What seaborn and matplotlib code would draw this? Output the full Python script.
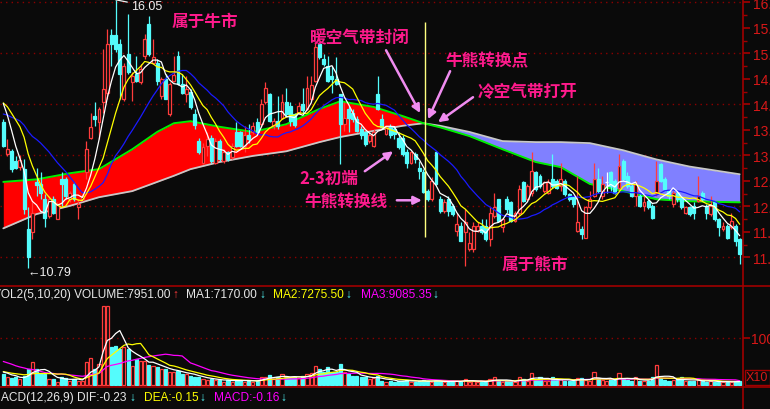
import matplotlib
matplotlib.use("Agg")
import matplotlib.pyplot as plt
import numpy as np
import pandas as pd
import seaborn as sns
from matplotlib.lines import Line2D
from matplotlib.ticker import FixedLocator, FormatStrFormatter

# closes before the first visible candle, only used to seed the moving averages
pre_close = [13.5, 13.6, 13.4, 13.7, 13.6, 13.5, 13.8, 13.6, 13.7, 13.5,
             13.9, 14.0, 14.1, 14.2, 14.0, 14.3, 14.2, 14.3, 14.1]

opens = [13.65, 13.03, 13.09, 12.89, 12.78, 12.73, 11.55, 11.49, 12.47, 12.44,
         12.14, 11.82, 12.14, 11.76, 12.53, 12.53, 12.14, 12.44, 11.98, 12.14,
         12.67, 13.35, 13.78, 13.65, 14.04, 14.23, 15.35, 15.35, 15.18, 14.10,
         14.99, 14.43, 14.59, 14.43, 14.95, 15.57, 14.82, 14.82, 14.17, 14.50,
         13.81, 14.46, 14.95, 14.40, 14.20, 14.25, 13.81, 13.29, 12.86, 13.19,
         13.35, 12.86, 13.29, 12.89, 13.06, 12.96, 13.45, 13.45, 13.19, 13.39,
         13.45, 13.65, 13.61, 14.04, 14.20, 13.58, 13.68, 13.74, 14.04, 13.97,
         13.81, 13.84, 14.01, 13.91, 14.10, 14.46, 15.18, 14.89, 14.76, 14.56,
         14.50, 14.20, 13.61, 13.91, 13.84, 13.71, 13.52, 13.45, 13.29, 13.19,
         14.20, 13.71, 13.42, 13.55, 13.52, 13.35, 13.35, 13.06, 12.86, 13.03,
         12.76, 12.67, 12.31, 12.14, 13.06, 12.14, 11.91, 12.14, 12.01, 11.52,
         11.62, 11.49, 11.16, 11.16, 11.52, 11.62, 11.62, 11.36, 11.82, 12.14,
         11.59, 12.14, 12.08, 11.72, 11.88, 12.47, 12.14, 12.27, 12.67, 12.60,
         12.31, 12.27, 12.53, 12.50, 12.40, 12.50, 12.24, 12.18, 11.52, 11.56,
         11.39, 11.98, 12.21, 12.53, 12.21, 12.48, 12.67, 12.50, 12.37, 12.89,
         12.60, 12.40, 12.21, 12.21, 12.01, 12.11, 12.01, 12.27, 12.83, 12.53,
         12.31, 12.05, 12.27, 12.18, 11.88, 11.98, 12.01, 12.11, 12.27, 12.01,
         11.85, 12.08, 11.75, 11.56, 11.62, 11.59, 11.62, 11.36]

highs = [13.71, 13.32, 13.12, 12.99, 13.00, 12.93, 11.98, 12.08, 12.76, 12.67,
         12.24, 12.21, 12.21, 12.08, 12.67, 12.57, 12.31, 12.47, 12.14, 12.24,
         13.29, 13.84, 14.04, 13.94, 15.08, 15.48, 15.48, 16.05, 15.28, 14.82,
         15.77, 14.63, 14.95, 14.79, 15.38, 15.74, 15.28, 14.89, 14.53, 14.59,
         14.43, 14.95, 15.05, 14.59, 14.56, 14.30, 13.91, 13.35, 13.25, 13.45,
         13.39, 13.35, 13.32, 13.12, 13.09, 13.25, 13.65, 13.48, 13.58, 13.61,
         13.65, 13.74, 14.10, 14.43, 14.23, 13.74, 14.17, 14.20, 14.33, 14.04,
         13.84, 14.04, 14.33, 14.56, 14.56, 15.22, 15.22, 14.99, 14.95, 14.76,
         14.92, 14.20, 14.04, 13.97, 13.91, 13.78, 13.58, 13.48, 13.45, 13.52,
         14.55, 13.81, 13.58, 13.61, 13.58, 13.45, 13.39, 13.12, 13.09, 13.06,
         12.89, 12.73, 12.34, 12.57, 13.09, 12.21, 12.14, 12.21, 12.05, 11.88,
         11.69, 11.95, 11.49, 11.69, 11.69, 11.75, 11.75, 11.98, 12.27, 12.14,
         11.78, 12.21, 12.11, 11.91, 12.41, 12.50, 12.44, 13.06, 12.70, 12.63,
         12.50, 12.53, 13.03, 12.53, 12.86, 12.53, 12.27, 12.21, 12.60, 11.62,
         12.01, 12.31, 12.86, 12.76, 12.60, 12.67, 12.70, 12.53, 13.03, 12.93,
         12.67, 12.44, 12.50, 12.24, 12.24, 12.14, 12.05, 12.89, 12.86, 12.57,
         12.34, 12.31, 12.31, 12.21, 12.01, 12.01, 12.08, 12.60, 12.31, 12.05,
         12.21, 12.11, 11.78, 11.69, 11.65, 11.88, 11.65, 11.39]

lows = [13.16, 12.99, 12.67, 12.73, 12.72, 11.85, 10.79, 11.36, 12.21, 12.14,
        11.59, 11.78, 11.85, 11.75, 12.01, 12.14, 12.08, 12.11, 11.75, 12.11,
        12.54, 13.32, 13.58, 13.32, 13.84, 14.10, 14.76, 15.02, 14.10, 14.07,
        14.59, 14.07, 14.43, 14.40, 14.89, 14.95, 14.79, 14.37, 14.10, 14.10,
        13.78, 14.43, 14.37, 14.20, 14.04, 13.91, 13.52, 13.03, 12.83, 12.99,
        12.86, 12.83, 12.89, 12.86, 12.89, 12.93, 13.16, 13.16, 13.06, 13.25,
        13.42, 13.39, 13.55, 14.01, 13.65, 13.52, 13.52, 13.71, 13.78, 13.58,
        13.55, 13.81, 13.84, 13.88, 14.07, 14.43, 14.89, 14.76, 14.43, 14.23,
        14.37, 12.83, 13.48, 13.45, 13.65, 13.45, 13.32, 13.19, 13.25, 13.16,
        13.88, 13.52, 13.39, 13.35, 13.32, 13.12, 12.99, 12.76, 12.83, 12.86,
        12.54, 12.27, 12.11, 12.11, 12.41, 11.88, 11.88, 11.82, 11.82, 11.42,
        11.33, 10.84, 11.13, 11.10, 11.49, 11.46, 11.33, 11.23, 11.78, 11.69,
        11.49, 11.88, 11.69, 11.69, 11.82, 12.08, 12.11, 12.21, 12.31, 12.37,
        12.27, 12.24, 12.37, 12.34, 12.31, 12.21, 12.11, 11.98, 11.49, 11.36,
        11.39, 11.95, 12.18, 12.27, 12.14, 12.27, 12.31, 12.24, 12.31, 12.50,
        12.37, 12.18, 12.01, 11.98, 11.91, 11.95, 11.75, 12.21, 12.47, 12.31,
        12.14, 11.98, 12.08, 11.95, 11.85, 11.82, 11.75, 12.08, 12.11, 11.75,
        11.82, 11.72, 11.42, 11.52, 11.36, 11.56, 11.23, 10.87]

closes = [13.19, 13.12, 12.73, 12.76, 12.90, 11.95, 11.00, 11.88, 12.41, 12.27,
          11.78, 12.14, 11.88, 12.05, 12.44, 12.21, 12.27, 12.14, 12.05, 12.21,
          13.12, 13.55, 13.71, 13.91, 14.30, 15.18, 15.18, 15.08, 14.59, 14.76,
          14.63, 14.56, 14.46, 14.69, 15.28, 14.99, 14.92, 14.46, 14.50, 14.10,
          14.40, 14.57, 14.40, 14.23, 14.30, 13.94, 13.59, 13.06, 13.16, 13.32,
          12.89, 13.29, 12.93, 13.06, 12.93, 13.19, 13.19, 13.19, 13.39, 13.32,
          13.58, 13.45, 14.01, 14.33, 13.68, 13.68, 13.58, 14.04, 13.81, 13.68,
          13.59, 13.97, 13.88, 14.33, 14.37, 15.12, 14.92, 14.79, 14.46, 14.50,
          14.40, 13.61, 13.74, 13.74, 13.71, 13.48, 13.39, 13.22, 13.39, 13.45,
          13.91, 13.55, 13.55, 13.39, 13.42, 13.16, 13.03, 12.86, 13.06, 12.93,
          12.70, 12.29, 12.14, 12.50, 12.44, 11.91, 12.08, 11.91, 11.85, 11.65,
          11.33, 11.69, 11.29, 11.62, 11.62, 11.49, 11.36, 11.88, 11.98, 11.72,
          11.75, 11.95, 11.72, 11.88, 12.34, 12.11, 12.40, 12.70, 12.34, 12.40,
          12.47, 12.48, 12.40, 12.37, 12.53, 12.24, 12.14, 12.05, 11.69, 11.46,
          11.98, 12.14, 12.53, 12.31, 12.44, 12.48, 12.40, 12.27, 12.80, 12.53,
          12.40, 12.21, 12.44, 12.01, 12.08, 11.98, 11.78, 12.50, 12.50, 12.34,
          12.21, 12.27, 12.14, 11.98, 11.98, 11.85, 11.88, 12.21, 12.14, 11.88,
          12.01, 11.75, 11.59, 11.62, 11.39, 11.72, 11.33, 11.07]

# volume in thousands
pre_volume = [75, 70, 85, 65, 60, 80, 70, 65, 75, 70,
              35, 30, 28, 25, 30, 28, 32, 25, 30]
volume = [23, 16, 14, 16, 13, 20, 33, 48, 35, 26,
          23, 13, 13, 6, 18, 14, 9, 13, 9, 9,
          48, 57, 34, 45, 169, 169, 80, 84, 77, 80,
          77, 41, 55, 52, 52, 43, 40, 38, 34, 35,
          28, 27, 30, 23, 23, 20, 18, 16, 13, 11,
          13, 11, 11, 7, 11, 7, 11, 11, 7, 9,
          7, 9, 18, 18, 21, 13, 16, 23, 18, 16,
          16, 14, 20, 23, 26, 41, 34, 28, 38, 27,
          28, 45, 27, 23, 20, 20, 16, 16, 13, 14,
          20, 9, 7, 9, 7, 9, 9, 11, 7, 6,
          9, 11, 8, 7, 9, 8, 6, 7, 8, 9,
          8, 13, 7, 8, 6, 7, 8, 13, 16, 9,
          7, 8, 9, 7, 16, 12, 9, 25, 12, 16,
          8, 9, 16, 10, 12, 9, 8, 9, 15, 15,
          10, 9, 27, 14, 10, 9, 12, 10, 25, 12,
          11, 9, 16, 9, 8, 9, 16, 43, 14, 11,
          9, 10, 12, 16, 9, 8, 9, 10.95, 8, 7,
          8, 7.4, 6.5, 6, 7, 6.5, 8.4, 7.951]

# long-term band ("air band"): green and gray lines read at selected candles
band_idx = [0, 8, 16, 23, 31, 37, 41, 45, 52, 60, 68, 76, 81, 89, 96,
            101, 105, 112, 120, 128, 134, 141, 149, 157, 165, 177]
band_green = [12.48, 12.53, 12.65, 12.73, 13.12, 13.46, 13.63, 13.67, 13.56,
              13.46, 13.61, 13.91, 14.06, 13.95, 13.77, 13.63, 13.55, 13.38,
              13.12, 12.87, 12.77, 12.44, 12.30, 12.14, 12.10, 12.08]
band_gray = [11.57, 11.85, 12.01, 12.18, 12.30, 12.48, 12.60, 12.73, 12.87,
             12.99, 13.08, 13.26, 13.36, 13.48, 13.58, 13.63, 13.58, 13.46,
             13.28, 13.26, 13.26, 13.24, 13.10, 12.92, 12.78, 12.63]

price_ticks = [16.0, 15.5, 15.0, 14.5, 14.0, 13.5, 13.0, 12.5, 12.0, 11.5, 11.0]
price_grid = [16, 15, 14, 13, 12, 11]
vol_ticks = [100]

BG = "#0a0a0a"
UP = "#ff3c3c"
DOWN = "#54fcfc"
AXIS = "#a00000"
GRID = "#8c0000"
LABEL = "#d81818"
PINK = "#ff1a8c"
ARROW = "#f08cf0"
W, H = 770, 410

sns.set_theme(style="dark", rc={"axes.facecolor": BG, "figure.facecolor": BG,
                                "savefig.facecolor": BG})
plt.rcParams["font.family"] = ["Liberation Sans", "Noto Sans CJK SC", "DejaVu Sans"]
CJK = ["Noto Sans CJK SC", "DejaVu Sans"]


def fx(x):
    return x / W


def fy(y):
    return 1 - y / H


n = len(closes)
idx = np.arange(n)
o = np.array(opens)
c = np.array(closes)
hi = np.array(highs)
lo = np.array(lows)
vol = np.array(volume)

all_close = pd.Series(pre_close + closes)
ma5 = all_close.rolling(5).mean().iloc[len(pre_close):].to_numpy()
ma10 = all_close.rolling(10).mean().iloc[len(pre_close):].to_numpy()
ma20 = all_close.rolling(20).mean().iloc[len(pre_close):].to_numpy()
all_vol = pd.Series(pre_volume + volume)
vma5 = all_vol.rolling(5).mean().iloc[len(pre_volume):].to_numpy()
vma10 = all_vol.rolling(10).mean().iloc[len(pre_volume):].to_numpy()
vma20 = all_vol.rolling(20).mean().iloc[len(pre_volume):].to_numpy()

fig = plt.figure(figsize=(W / 100, H / 100), dpi=100)
xlim = (-0.79, 177.8)
ax_p = fig.add_axes([0, fy(287), fx(743), 287 / H])
ax_v = fig.add_axes([0, fy(388), fx(743), 101 / H])
ax_m = fig.add_axes([0, 0, fx(743), 22 / H])

for ax in (ax_p, ax_v, ax_m):
    ax.set_facecolor(BG)
    ax.set_xlim(*xlim)
    ax.set_xticks([])
    for side in ("top", "bottom", "left"):
        ax.spines[side].set_visible(False)
    ax.spines["right"].set_color(AXIS)
    ax.spines["right"].set_linewidth(1.2)
    ax.grid(False)
ax_m.set_yticks([])

# ---- price panel ----
ax_p.set_ylim(10.44, 16.065)
for g in price_grid:
    ax_p.axhline(g, color=GRID, lw=1, ls=(0, (1, 3)), zorder=1)

bx = np.array(band_idx)
bg_ = np.array(band_green)
bgr = np.array(band_gray)
ax_p.fill_between(bx, bg_, bgr, where=bg_ >= bgr, interpolate=True,
                  color="#ff0000", lw=0, zorder=2)
ax_p.fill_between(bx, bg_, bgr, where=bg_ <= bgr, interpolate=True,
                  color="#8080ff", lw=0, zorder=2)
sns.lineplot(x=bx, y=bgr, ax=ax_p, color="#c8c8c8", lw=1.3, zorder=3)
sns.lineplot(x=bx, y=bg_, ax=ax_p, color="#00ee00", lw=1.4, zorder=3)

up = c > o
doji = c == o
edge = np.where(doji, "#ffffff", np.where(up, UP, DOWN))
face = np.where(up | doji, BG, DOWN)
ax_p.vlines(idx, lo, hi, colors=edge, lw=0.9, zorder=4)
ax_p.bar(idx, np.abs(c - o), bottom=np.minimum(o, c), width=0.7,
         color=face, edgecolor=edge, linewidth=0.9, zorder=5)

sns.lineplot(x=idx, y=ma20, ax=ax_p, color="#1a1aff", lw=0.9, zorder=6)
sns.lineplot(x=idx, y=ma10, ax=ax_p, color="#ffff00", lw=0.9, zorder=6)
sns.lineplot(x=idx, y=ma5, ax=ax_p, color="#ffffff", lw=0.9, zorder=7)

ax_p.yaxis.tick_right()
ax_p.yaxis.set_major_locator(FixedLocator(price_ticks))
ax_p.yaxis.set_minor_locator(FixedLocator(np.arange(11.25, 16.0, 0.5)))
ax_p.yaxis.set_major_formatter(FormatStrFormatter("%.2f"))
ax_p.tick_params(axis="y", which="major", length=5, color=AXIS, labelcolor=LABEL,
                 labelsize=10, pad=2, right=True, left=False)
ax_p.tick_params(axis="y", which="minor", length=3, color=AXIS, right=True, left=False)
ax_p.set_xlabel("")
ax_p.set_ylabel("")

# high / low markers
i_hi = int(np.argmax(hi))
i_lo = int(np.argmin(lo))
ax_p.annotate(f"{hi[i_hi]:.2f}", xy=(i_hi, hi[i_hi]), xytext=(i_hi + 3.6, 15.93),
              color="#f0f0f0", fontsize=9, va="center", ha="left",
              arrowprops=dict(arrowstyle="-", color="#f0f0f0", lw=0.9,
                              shrinkA=0, shrinkB=0), zorder=9)
ax_p.text(i_lo - 0.2, 10.71, f"←{lo[i_lo]:.2f}", color="#f0f0f0", fontsize=9,
          va="center", ha="left", zorder=9)

# turning point marker
ax_p.vlines(101.4, 11.41, 15.61, color="#ffff80", lw=1, zorder=8)

notes = [
    ("属于牛市", 48.5, 15.63),
    ("暖空气带封闭", 85.7, 15.32),
    ("牛熊转换点", 116.4, 14.87),
    ("冷空气带打开", 126.1, 14.26),
    ("2-3初端", 78.3, 12.56),
    ("牛熊转换线", 82.5, 12.12),
    ("属于熊市", 127.8, 10.87),
]
for s, x, y in notes:
    ax_p.text(x, y, s, color=PINK, fontsize=12, fontweight="bold", family=CJK,
              ha="center", va="center", zorder=10)

arrows = [
    ((92.0, 15.06), (100.2, 13.83)),
    ((107.4, 14.65), (102.1, 13.71)),
    ((112.9, 14.14), (104.5, 13.65)),
    ((86.9, 12.69), (93.7, 13.08)),
    ((94.6, 12.12), (100.6, 12.12)),
]
for start, end in arrows:
    ax_p.annotate("", xy=end, xytext=start, zorder=10,
                  arrowprops=dict(arrowstyle="-|>", color=ARROW, lw=1.8,
                                  mutation_scale=12, shrinkA=0, shrinkB=0))

# ---- volume panel ----
ax_v.set_ylim(-4.3, 210.6)
ax_v.axhline(100, color=GRID, lw=1, ls=(0, (1, 3)), zorder=1)
vup = c >= o
vface = np.where(vup, BG, DOWN)
vedge = np.where(vup, UP, DOWN)
ax_v.bar(idx, vol, width=0.75, color=vface, edgecolor=vedge, linewidth=0.9, zorder=3)
sns.lineplot(x=idx, y=vma20, ax=ax_v, color="#ff00ff", lw=0.9, zorder=4)
sns.lineplot(x=idx, y=vma10, ax=ax_v, color="#ffff00", lw=0.9, zorder=4)
sns.lineplot(x=idx, y=vma5, ax=ax_v, color="#ffffff", lw=0.9, zorder=5)
ax_v.yaxis.tick_right()
ax_v.yaxis.set_major_locator(FixedLocator(vol_ticks))
ax_v.yaxis.set_major_formatter(FormatStrFormatter("%d"))
ax_v.tick_params(axis="y", length=5, color=AXIS, labelcolor=LABEL, labelsize=10,
                 pad=1, right=True, left=False)
ax_v.set_xlabel("")
ax_v.set_ylabel("")
fig.text(fx(746), fy(378), "X10", color=LABEL, fontsize=9, va="center", ha="left",
         bbox=dict(boxstyle="square,pad=0.12", fc="none", ec=AXIS, lw=1))

# panel separators
for yy in (287, 388):
    fig.add_artist(Line2D([0, 1], [fy(yy), fy(yy)], color=AXIS, lw=1.2))

# indicator headers
vol_head = [
    (-7, "VOL2(5,10,20) VOLUME:7951.00", "#e8e8e8"),
    (172, "↑", UP),
    (186, "MA1:7170.00", "#e8e8e8"),
    (259, "↓", DOWN),
    (273, "MA2:7275.50", "#ffff00"),
    (345, "↓", DOWN),
    (361, "MA3:9085.35", "#ff00ff"),
    (432, "↓", DOWN),
]
macd_head = [
    (-9, "MACD(12,26,9) DIF:-0.23", "#e8e8e8"),
    (129, "↓", DOWN),
    (144, "DEA:-0.15", "#ffff00"),
    (199, "↓", DOWN),
    (214, "MACD:-0.16", "#ff00ff"),
    (280, "↓", DOWN),
]
for x, s, col in vol_head:
    fig.text(fx(x), fy(295), s, color=col, fontsize=8.6, va="center", ha="left")
for x, s, col in macd_head:
    fig.text(fx(x), fy(398), s, color=col, fontsize=8.6, va="center", ha="left")

fig.savefig("out.png", dpi=100, facecolor=BG)
